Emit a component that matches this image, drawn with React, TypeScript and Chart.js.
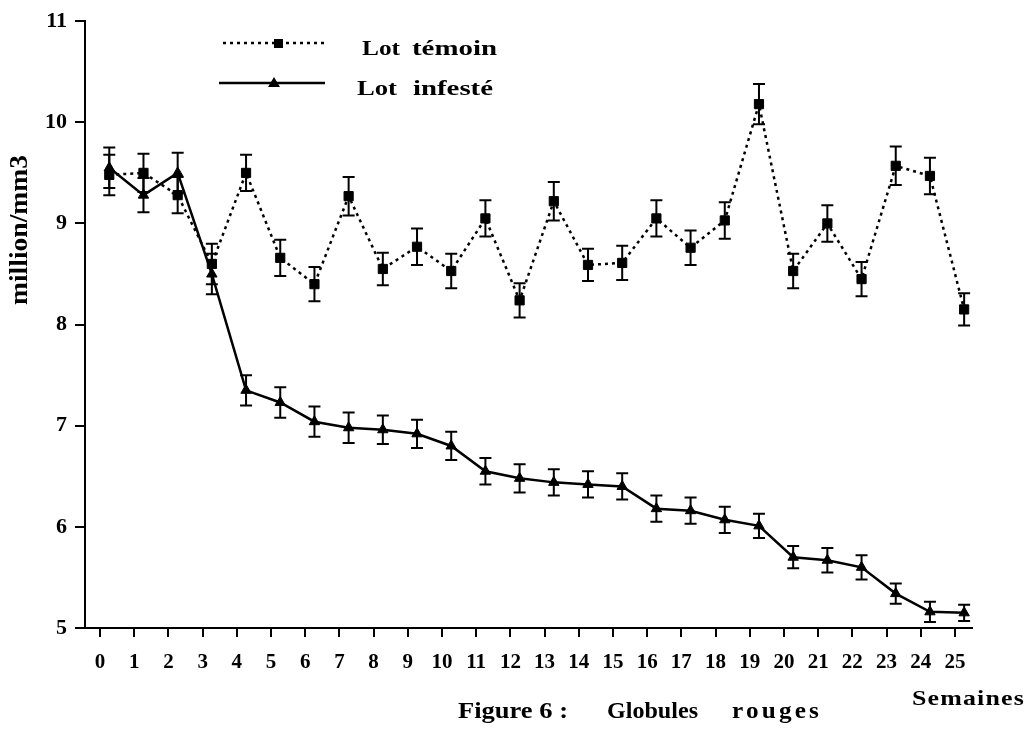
import React, { useEffect, useRef } from "react";
import { Chart, registerables } from "chart.js";

Chart.register(...registerables);

const weeks = [0, 1, 2, 3, 4, 5, 6, 7, 8, 9, 10, 11, 12, 13, 14, 15, 16, 17, 18, 19, 20, 21, 22, 23, 24, 25];
const yTicks = [5, 6, 7, 8, 9, 10, 11];

const temoin = [9.48, 9.5, 9.28, 8.6, 9.5, 8.66, 8.4, 9.27, 8.55, 8.77, 8.53, 9.05, 8.24, 9.22, 8.59, 8.61, 9.05, 8.76, 9.03, 10.18, 8.53, 9.0, 8.45, 9.57, 9.47, 8.15];
const temoinErr = [0.2, 0.19, 0.18, 0.2, 0.18, 0.18, 0.17, 0.19, 0.16, 0.18, 0.17, 0.18, 0.17, 0.19, 0.16, 0.17, 0.18, 0.17, 0.18, 0.2, 0.17, 0.18, 0.17, 0.19, 0.18, 0.16];

const infeste = [9.55, 9.28, 9.5, 8.5, 7.35, 7.23, 7.04, 6.98, 6.96, 6.92, 6.8, 6.55, 6.48, 6.44, 6.42, 6.4, 6.18, 6.16, 6.07, 6.01, 5.7, 5.67, 5.6, 5.34, 5.16, 5.15];
const infesteErr = [0.2, 0.17, 0.2, 0.2, 0.15, 0.15, 0.15, 0.15, 0.14, 0.14, 0.14, 0.13, 0.14, 0.13, 0.13, 0.13, 0.13, 0.13, 0.13, 0.12, 0.11, 0.12, 0.12, 0.1, 0.1, 0.08];

const seriesNames = ["Lot témoin", "Lot infesté"];
const yTitle = "million/mm3";
const xTitle = "Semaines";
const captionWords = ["Figure 6 :", "Globules", "rouges"];
const xOffset = 0.27;
const FONT = "'Liberation Serif', 'Times New Roman', serif";

function drawStretched(ctx: any, text: string, x: number, y: number, width: number, spacing = 0) {
  ctx.letterSpacing = `${spacing}px`;
  const w = ctx.measureText(text).width;
  ctx.save();
  ctx.translate(x, y);
  ctx.scale(width / w, 1);
  ctx.fillText(text, 0, 0);
  ctx.restore();
  ctx.letterSpacing = "0px";
}

const errorBarPlugin = {
  id: "errorBars",
  afterDatasetsDraw(chart: any) {
    const { ctx, scales } = chart;
    const xs = scales.x;
    const ys = scales.y;
    const groups = [
      { vals: temoin, errs: temoinErr },
      { vals: infeste, errs: infesteErr },
    ];
    ctx.save();
    ctx.strokeStyle = "#000";
    ctx.lineWidth = 2;
    groups.forEach(({ vals, errs }) => {
      vals.forEach((v, i) => {
        const x = xs.getPixelForValue(weeks[i] + xOffset);
        const y1 = ys.getPixelForValue(v + errs[i]);
        const y2 = ys.getPixelForValue(v - errs[i]);
        ctx.beginPath();
        ctx.moveTo(x, y1);
        ctx.lineTo(x, y2);
        ctx.moveTo(x - 6, y1);
        ctx.lineTo(x + 6, y1);
        ctx.moveTo(x - 6, y2);
        ctx.lineTo(x + 6, y2);
        ctx.stroke();
      });
    });
    ctx.restore();
  },
};

const textPlugin = {
  id: "texts",
  afterDraw(chart: any) {
    const { ctx } = chart;
    ctx.save();
    ctx.fillStyle = "#000";
    ctx.strokeStyle = "#000";
    // Legend
    ctx.lineWidth = 2.5;
    ctx.setLineDash([3, 4]);
    ctx.beginPath();
    ctx.moveTo(223, 43);
    ctx.lineTo(328, 43);
    ctx.stroke();
    ctx.setLineDash([]);
    ctx.fillRect(274, 39, 9, 9);
    ctx.beginPath();
    ctx.moveTo(219, 83);
    ctx.lineTo(325, 83);
    ctx.stroke();
    ctx.beginPath();
    ctx.moveTo(274, 77);
    ctx.lineTo(280, 87);
    ctx.lineTo(268, 87);
    ctx.closePath();
    ctx.fill();

    ctx.font = `bold 22px ${FONT}`;
    ctx.textBaseline = "alphabetic";
    ctx.textAlign = "left";
    const [w1a, w1b] = seriesNames[0].split(" ");
    const [w2a, w2b] = seriesNames[1].split(" ");
    drawStretched(ctx, w1a, 362, 55, 38);
    drawStretched(ctx, w1b, 412, 55, 85);
    drawStretched(ctx, w2a, 357, 95, 40);
    drawStretched(ctx, w2b, 413, 95, 80);

    // Y title
    ctx.save();
    ctx.translate(27, 305);
    ctx.rotate(-Math.PI / 2);
    ctx.font = `bold 25px ${FONT}`;
    drawStretched(ctx, yTitle, 0, 0, 150);
    ctx.restore();

    // Semaines
    ctx.font = `bold 22px ${FONT}`;
    drawStretched(ctx, xTitle, 912, 705, 113, 1);

    // Caption
    ctx.font = `bold 24px ${FONT}`;
    drawStretched(ctx, captionWords[0], 458, 718, 110);
    drawStretched(ctx, captionWords[1], 607, 718, 91);
    drawStretched(ctx, captionWords[2], 732, 718, 90, 3);
    ctx.restore();
  },
};

export default function App() {
  const canvasRef = useRef<HTMLCanvasElement | null>(null);

  useEffect(() => {
    if (!canvasRef.current) return;
    const chart = new Chart(canvasRef.current, {
      type: "line",
      data: {
        datasets: [
          {
            label: seriesNames[0],
            data: weeks.map((w, i) => ({ x: w + xOffset, y: temoin[i] })),
            borderColor: "#000",
            backgroundColor: "#000",
            borderWidth: 2.5,
            borderDash: [3, 4],
            pointStyle: "rect",
            pointRadius: 6.5,
            pointBorderWidth: 1,
            tension: 0,
          },
          {
            label: seriesNames[1],
            data: weeks.map((w, i) => ({ x: w + xOffset, y: infeste[i] })),
            borderColor: "#000",
            backgroundColor: "#000",
            borderWidth: 2.5,
            pointStyle: "triangle",
            pointRadius: 6,
            pointBorderWidth: 1,
            tension: 0,
          },
        ],
      },
      options: {
        animation: false,
        responsive: true,
        maintainAspectRatio: false,
        layout: { padding: { top: 17, right: 59, left: 0, bottom: 0 } },
        plugins: { legend: { display: false }, tooltip: { enabled: false } },
        scales: {
          x: {
            type: "linear",
            min: -0.44,
            max: 25.5,
            afterBuildTicks: (s: any) => {
              s.ticks = weeks.map((v) => ({ value: v }));
            },
            afterFit: (s: any) => {
              s.height = 101;
            },
            ticks: {
              color: "#000",
              font: { family: FONT, size: 21, weight: "bold" },
              padding: 13,
              maxRotation: 0,
              autoSkip: false,
              callback: (v: any) => String(v),
            },
            grid: { display: true, drawOnChartArea: false, drawTicks: true, tickLength: 9, color: "#000", lineWidth: 2 },
            border: { display: true, color: "#000", width: 2 },
          },
          y: {
            min: 5,
            max: 11,
            afterBuildTicks: (s: any) => {
              s.ticks = yTicks.map((v) => ({ value: v }));
            },
            afterFit: (s: any) => {
              s.width = 85;
            },
            ticks: {
              color: "#000",
              font: { family: FONT, size: 22, weight: "bold" },
              padding: 8,
              callback: (v: any) => String(v),
            },
            grid: { display: true, drawOnChartArea: false, drawTicks: true, tickLength: 10, color: "#000", lineWidth: 2 },
            border: { display: true, color: "#000", width: 2 },
          },
        },
      },
      plugins: [errorBarPlugin, textPlugin],
    } as any);
    return () => chart.destroy();
  }, []);

  return (
    <div style={{ position: "fixed", left: 0, top: 0, width: 1031, height: 729, background: "#fff" }}>
      <canvas ref={canvasRef} />
    </div>
  );
}
